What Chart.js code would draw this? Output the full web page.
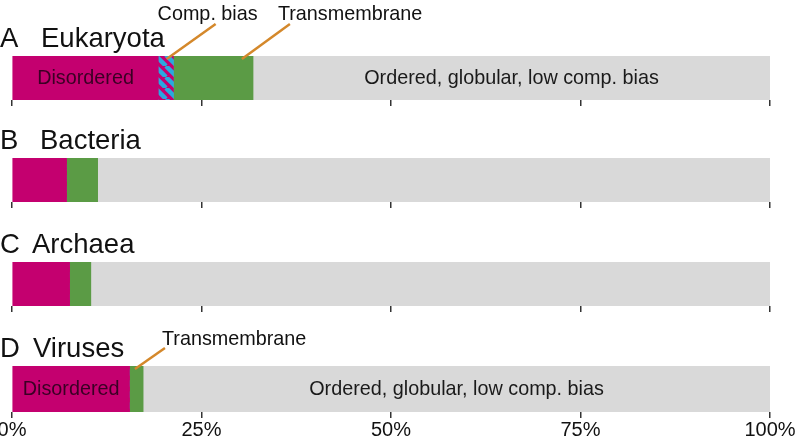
<!DOCTYPE html>
<html>
<head>
<meta charset="utf-8">
<script src="https://cdn.jsdelivr.net/npm/chart.js@4"></script>
<style>
  html, body { margin: 0; padding: 0; background: #fff; }
  #wrap { position: relative; width: 796px; height: 442px; overflow: hidden; }
  #wrap canvas { position: absolute; left: -10px; }
</style>
</head>
<body>
<div id="wrap">
  <canvas id="panel0" width="806" height="110" style="top:0px"></canvas>
  <canvas id="panel1" width="806" height="110" style="top:102px"></canvas>
  <canvas id="panel2" width="806" height="110" style="top:206px"></canvas>
  <canvas id="panel3" width="806" height="132" style="top:310px"></canvas>
</div>
<script>
// data (percent of residues)
const letters = ['A', 'B', 'C', 'D'];
const kingdoms = ['Eukaryota', 'Bacteria', 'Archaea', 'Viruses'];
const disordered = [19.3, 7.2, 7.6, 15.5];
const compBias = [2.0, 0, 0, 0];
const transmembrane = [10.5, 4.1, 2.8, 1.8];
const ordered = [68.2, 88.7, 89.6, 82.7];
const xTickLabels = ['0%', '25%', '50%', '75%', '100%'];

const FONT = '"Liberation Sans", Arial, Helvetica, sans-serif';
const MAGENTA = '#c4006f';
const GREEN = '#5b9b45';
const GREY = '#d9d9d9';
const BLUE = '#29a8e0';
const ORANGE = '#d4882b';
const SHIFT = 10; // canvases start 10px left of the page so the 0% label can overhang

// striped fill for the compositional bias segment
function stripes() {
  const c = document.createElement('canvas');
  c.width = 11; c.height = 11;
  const g = c.getContext('2d');
  g.fillStyle = MAGENTA;
  g.fillRect(0, 0, 11, 11);
  g.strokeStyle = BLUE;
  g.lineWidth = 4.5;
  for (let k = -11; k <= 22; k += 11) {
    g.beginPath();
    g.moveTo(k, 0);
    g.lineTo(k + 11, 11);
    g.stroke();
  }
  return g.createPattern(c, 'repeat');
}
const stripeFill = stripes();

const nameX = [41, 40, 32, 33];

const segLabels = [
  [{ ds: 0, text: 'Disordered', color: '#3a0024' },
   { ds: 3, text: 'Ordered, globular, low comp. bias', color: '#1a1a1a' }],
  [], [],
  [{ ds: 0, text: 'Disordered', color: '#3a0024' },
   { ds: 3, text: 'Ordered, globular, low comp. bias', color: '#1a1a1a' }]
];

const callouts = [
  [{ ds: 1, text: 'Comp. bias', frac: 0.55, dx: 49, dy: -35, tx: -8, ty: -4, align: 'center' },
   { ds: 2, text: 'Transmembrane', frac: 0.86, dx: 48, dy: -35, tx: -12, ty: -4, align: 'left' }],
  [], [],
  [{ ds: 2, text: 'Transmembrane', frac: 0.4, dx: 30, dy: -21, tx: -3, ty: -3, align: 'left' }]
];

const panelDecor = {
  id: 'panelDecor',
  afterDatasetsDraw(chart, args, opts) {
    const ctx = chart.ctx;
    const area = chart.chartArea;
    ctx.save();
    ctx.fillStyle = '#111';
    ctx.font = '27.5px ' + FONT;
    ctx.textAlign = 'left';
    ctx.textBaseline = 'alphabetic';
    ctx.fillText(letters[opts.idx], SHIFT, area.top - 9);
    ctx.fillText(kingdoms[opts.idx], SHIFT + nameX[opts.idx], area.top - 9);

    ctx.font = '19.8px ' + FONT;
    ctx.textAlign = 'center';
    ctx.textBaseline = 'middle';
    segLabels[opts.idx].forEach(s => {
      const el = chart.getDatasetMeta(s.ds).data[0];
      const l = Math.min(el.x, el.base), r = Math.max(el.x, el.base);
      ctx.fillStyle = s.color;
      ctx.fillText(s.text, (l + r) / 2, el.y + 1);
    });

    callouts[opts.idx].forEach(c => {
      const el = chart.getDatasetMeta(c.ds).data[0];
      const l = Math.min(el.x, el.base), r = Math.max(el.x, el.base);
      const x0 = l + c.frac * (r - l), y0 = area.top + 3;
      const x1 = x0 + c.dx, y1 = y0 + c.dy;
      ctx.strokeStyle = ORANGE;
      ctx.lineWidth = 2.5;
      ctx.beginPath();
      ctx.moveTo(x0, y0);
      ctx.lineTo(x1, y1);
      ctx.stroke();
      ctx.fillStyle = '#111';
      ctx.textAlign = c.align;
      ctx.textBaseline = 'alphabetic';
      ctx.fillText(c.text, x1 + c.tx, y1 + c.ty);
    });
    ctx.restore();
  }
};

kingdoms.forEach((name, i) => {
  const last = i === kingdoms.length - 1;
  const el = document.getElementById('panel' + i);
  const h = el.height;
  new Chart(el, {
    type: 'bar',
    data: {
      labels: [name],
      datasets: [
        { label: 'Disordered', data: [disordered[i]], backgroundColor: MAGENTA },
        { label: 'Comp. bias', data: [compBias[i]], backgroundColor: stripeFill },
        { label: 'Transmembrane', data: [transmembrane[i]], backgroundColor: GREEN },
        { label: 'Ordered', data: [ordered[i]], backgroundColor: GREY }
      ]
    },
    options: {
      indexAxis: 'y',
      responsive: false,
      animation: false,
      layout: { padding: { left: 12 + SHIFT, right: 26, top: 56, bottom: last ? 0 : h - 56 - 44 - 6 } },
      datasets: { bar: { barPercentage: 1, categoryPercentage: 1, borderWidth: 0 } },
      scales: {
        x: {
          stacked: true,
          min: 0,
          max: 100,
          border: { display: false },
          grid: { drawOnChartArea: false, drawTicks: true, tickLength: 6, color: '#333', lineWidth: 1.5 },
          ticks: {
            display: last,
            stepSize: 25,
            padding: 0,
            color: '#111',
            font: { family: FONT, size: 20 },
            callback: (v, k) => xTickLabels[k]
          }
        },
        y: { stacked: true, display: false }
      },
      plugins: {
        legend: { display: false },
        tooltip: { enabled: false },
        panelDecor: { idx: i }
      }
    },
    plugins: [panelDecor]
  });
});
</script>
</body>
</html>
